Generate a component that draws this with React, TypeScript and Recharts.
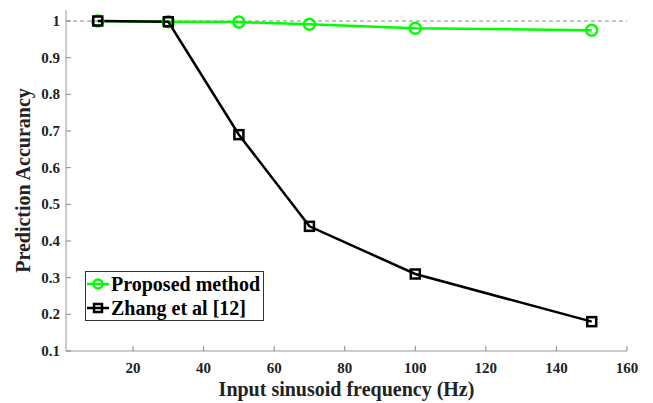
import React from 'react';
import {
  LineChart,
  Line,
  XAxis,
  YAxis,
  ReferenceLine,
  Legend
} from 'recharts';

const frequencies = [10, 30, 50, 70, 100, 150];
const proposedAccuracy = [1, 0.998, 0.997, 0.991, 0.98, 0.975];
const zhangAccuracy = [1, 0.998, 0.69, 0.44, 0.31, 0.18];
const xTicks = [20, 40, 60, 80, 100, 120, 140, 160];
const yTicks = [0.1, 0.2, 0.3, 0.4, 0.5, 0.6, 0.7, 0.8, 0.9, 1];

const seriesNames = ['Proposed method', 'Zhang et al [12]'];

const chartData = frequencies.map((f, i) => ({
  freq: f,
  proposed: proposedAccuracy[i],
  zhang: zhangAccuracy[i]
}));

const FONT = '"Liberation Serif", "Times New Roman", serif';
const GREEN = '#00ff00';

// tick labels drawn by hand so the serif bold font sticks
const XTick = (props: any) => {
  const { x, y, payload } = props;
  return (
    <text x={x} y={y + 10} textAnchor="middle" fill="#222" fontSize={15} fontWeight="bold" fontFamily={FONT}>
      {payload.value}
    </text>
  );
};

const YTick = (props: any) => {
  const { x, y, payload } = props;
  return (
    <text x={x} y={y + 5} textAnchor="end" fill="#222" fontSize={15} fontWeight="bold" fontFamily={FONT}>
      {String(payload.value)}
    </text>
  );
};

const Circle = (props: any) => {
  const { cx, cy } = props;
  if (cx == null || cy == null) return null;
  return <circle cx={cx} cy={cy} r={5.5} fill="none" stroke={GREEN} strokeWidth={2.5} />;
};

const Square = (props: any) => {
  const { cx, cy } = props;
  if (cx == null || cy == null) return null;
  return <rect x={cx - 4.5} y={cy - 4.5} width={9} height={9} fill="none" stroke="#000" strokeWidth={2.5} />;
};

function LegendBox() {
  const row = (name: string, kind: 'circle' | 'square') => (
    <div style={{ display: 'flex', alignItems: 'center', height: 24 }}>
      <svg width={24} height={20} style={{ marginRight: 1 }}>
        <line x1={1} y1={10} x2={23} y2={10} stroke={kind === 'circle' ? GREEN : '#000'} strokeWidth={2.5} />
        {kind === 'circle' ? (
          <circle cx={12} cy={10} r={4.5} fill="none" stroke={GREEN} strokeWidth={2.5} />
        ) : (
          <rect x={8} y={6} width={8} height={8} fill="none" stroke="#000" strokeWidth={2.5} />
        )}
      </svg>
      <span style={{ fontFamily: FONT, fontWeight: 'bold', fontSize: 20, color: '#000' }}>{name}</span>
    </div>
  );
  return (
    <div style={{ border: '1px solid #333', background: '#fff', padding: '0px 3px 0px 0px', lineHeight: 1 }}>
      {row(seriesNames[0], 'circle')}
      {row(seriesNames[1], 'square')}
    </div>
  );
}

export default function App() {
  return (
    <div style={{ position: 'absolute', left: 0, top: 0, background: '#fff' }}>
      <LineChart width={653} height={403} data={chartData} margin={{ top: 10, right: 26, bottom: 22, left: 0 }}>
        <XAxis
          xAxisId="top"
          orientation="top"
          dataKey="freq"
          type="number"
          domain={[1, 160]}
          ticks={xTicks}
          height={0}
          tick={false}
          tickSize={-5}
          axisLine={{ stroke: '#aaa' }}
          tickLine={{ stroke: '#888' }}
        />
        <YAxis
          yAxisId="right"
          orientation="right"
          type="number"
          domain={[0.1, 1.03]}
          ticks={yTicks}
          width={0}
          tick={false}
          tickSize={-5}
          axisLine={{ stroke: '#999' }}
          tickLine={{ stroke: '#888' }}
        />
        <XAxis
          dataKey="freq"
          type="number"
          domain={[1, 160]}
          ticks={xTicks}
          height={30}
          tick={<XTick />}
          tickSize={-5}
          tickMargin={17}
          axisLine={{ stroke: '#999' }}
          tickLine={{ stroke: '#888' }}
          label={{
            value: 'Input sinusoid frequency (Hz)',
            position: 'bottom',
            offset: 1,
            style: { fill: '#222', fontSize: 20, fontWeight: 'bold', fontFamily: FONT }
          }}
        />
        <YAxis
          type="number"
          domain={[0.1, 1.03]}
          ticks={yTicks}
          width={66}
          tick={<YTick />}
          tickSize={-5}
          tickMargin={11}
          axisLine={{ stroke: '#999' }}
          tickLine={{ stroke: '#888' }}
          label={{
            content: (p: any) => {
              const vb = p.viewBox || {};
              const cy = (vb.y ?? 10) + (vb.height ?? 341) / 2;
              return (
                <text
                  x={30}
                  y={cy}
                  transform={`rotate(-90, 30, ${cy})`}
                  textAnchor="middle"
                  fill="#222"
                  fontSize={20}
                  fontWeight="bold"
                  fontFamily={FONT}
                >
                  Prediction Accurancy
                </text>
              );
            }
          }}
        />
        <ReferenceLine y={1} stroke="#888" strokeDasharray="4 3" strokeWidth={1} />
        <Line
          dataKey="proposed"
          name={seriesNames[0]}
          stroke={GREEN}
          strokeWidth={2.5}
          dot={<Circle />}
          isAnimationActive={false}
        />
        <Line
          dataKey="zhang"
          name={seriesNames[1]}
          stroke="#000"
          strokeWidth={2.5}
          dot={<Square />}
          isAnimationActive={false}
        />
        <Legend
          layout="horizontal"
          verticalAlign="middle"
          align="center"
          content={() => <LegendBox />}
          wrapperStyle={{ left: 85, top: 271, width: 'auto', height: 'auto' }}
        />
      </LineChart>
    </div>
  );
}
